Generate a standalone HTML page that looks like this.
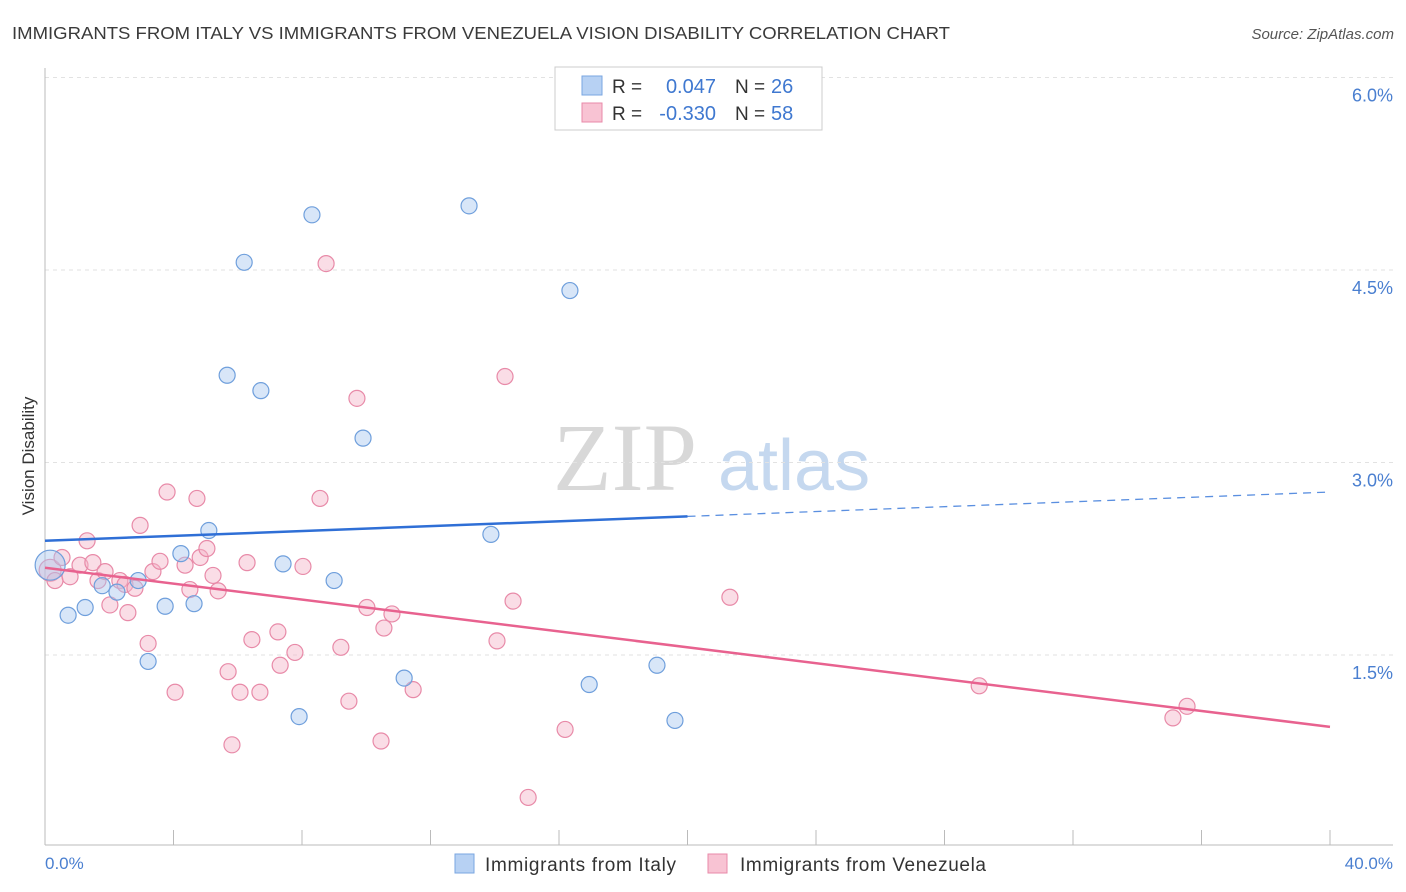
<!DOCTYPE html>
<html><head><meta charset="utf-8"><style>
body{margin:0;background:#fff;font-family:"Liberation Sans",Arial,sans-serif;}
#wrap{position:relative;width:1406px;height:892px;overflow:hidden;}
</style></head><body>
<div id="wrap">
<svg id="chart" width="1406" height="892" xmlns="http://www.w3.org/2000/svg">
<text x="12" y="39" font-size="17.5" fill="#3a3a3a" textLength="938" lengthAdjust="spacingAndGlyphs">IMMIGRANTS FROM ITALY VS IMMIGRANTS FROM VENEZUELA VISION DISABILITY CORRELATION CHART</text>
<text x="1394" y="39" font-size="15" fill="#555" font-style="italic" text-anchor="end">Source: ZipAtlas.com</text>
<g>
<text x="553" y="490" font-size="96" font-family="Liberation Serif,serif" fill="#d8d8d8">ZIP</text>
<text x="718" y="490" font-size="72" fill="#c5d8ef">atlas</text>
</g>
<g id="grid"></g>
<g id="axes"></g>
<g id="pts"></g>
<g id="trend"></g>
<text transform="translate(34,456) rotate(-90)" font-size="17" fill="#333" text-anchor="middle">Vision Disability</text>
<text x="45" y="869" font-size="17" fill="#4a7fd0">0.0%</text>
<text x="1393" y="869" font-size="17" fill="#4a7fd0" text-anchor="end">40.0%</text>
<g>
<rect x="555" y="67" width="267" height="63" fill="#fff" stroke="#ccc"/>
<rect x="582" y="76" width="20" height="19" fill="#b7d1f3" stroke="#7aa6e0"/>
<rect x="582" y="103" width="20" height="19" fill="#f8c3d3" stroke="#e88aa8"/>
<text x="612" y="93" font-size="19" fill="#333">R =</text>
<text x="716" y="93" font-size="20" fill="#3f78d0" text-anchor="end">0.047</text>
<text x="735" y="93" font-size="19" fill="#333">N =</text>
<text x="771" y="93" font-size="20" fill="#3f78d0">26</text>
<text x="612" y="120" font-size="19" fill="#333">R =</text>
<text x="716" y="120" font-size="20" fill="#3f78d0" text-anchor="end">-0.330</text>
<text x="735" y="120" font-size="19" fill="#333">N =</text>
<text x="771" y="120" font-size="20" fill="#3f78d0">58</text>
</g>
<g>
<rect x="455" y="854" width="19" height="19" fill="#b7d1f3" stroke="#7aa6e0"/>
<text x="485" y="871" font-size="19" fill="#333" textLength="191">Immigrants from Italy</text>
<rect x="708" y="854" width="19" height="19" fill="#f8c3d3" stroke="#e88aa8"/>
<text x="740" y="871" font-size="19" fill="#333" textLength="246">Immigrants from Venezuela</text>
</g>
</svg>
</div>
<script>
const yTicks=[1.5,3.0,4.5,6.0];
const yTickLabels=["1.5%","3.0%","4.5%","6.0%"];
const xTickVals=[0,4,8,12,16,20,24,28,32,36,40];
const italyX=[0.16,0.72,1.25,1.78,2.24,2.90,3.21,3.74,4.23,4.64,5.10,5.67,6.20,6.72,7.41,7.91,8.31,9.00,9.90,11.18,13.20,13.88,16.34,16.94,19.05,19.61];
const italyY=[2.20,1.81,1.87,2.04,1.99,2.08,1.45,1.88,2.29,1.90,2.47,3.68,4.56,3.56,2.21,1.02,4.93,2.08,3.19,1.32,5.00,2.44,4.34,1.27,1.42,0.99];
const venX=[0.16,0.31,0.53,0.78,1.09,1.31,1.49,1.65,1.87,2.02,2.33,2.49,2.58,2.80,2.96,3.21,3.36,3.58,3.80,4.05,4.36,4.51,4.73,4.83,5.04,5.23,5.39,5.70,5.82,6.07,6.29,6.44,6.69,7.25,7.32,7.78,8.03,8.56,8.75,9.21,9.46,9.71,10.02,10.46,10.55,10.80,11.46,14.07,14.32,14.57,15.04,16.19,21.32,29.08,35.11,35.55];
const venY=[2.16,2.08,2.26,2.11,2.20,2.39,2.22,2.08,2.15,1.89,2.08,2.05,1.83,2.02,2.51,1.59,2.15,2.23,2.77,1.21,2.20,2.01,2.72,2.26,2.33,2.12,2.00,1.37,0.80,1.21,2.22,1.62,1.21,1.68,1.42,1.52,2.19,2.72,4.55,1.56,1.14,3.50,1.87,0.83,1.71,1.82,1.23,1.61,3.67,1.92,0.39,0.92,1.95,1.26,1.01,1.10];
const italyTrend=[2.39,2.77];
const venTrend=[2.18,0.94];
const NS="http://www.w3.org/2000/svg";
const sx=v=>45+v/40*1285;
const sy=v=>847.5-v*128.33;
function mk(tag,attrs,parent){const e=document.createElementNS(NS,tag);for(const k in attrs)e.setAttribute(k,attrs[k]);document.getElementById(parent).appendChild(e);return e;}
yTicks.forEach((t,i)=>{
 const l=mk('line',{x1:45,x2:1393,y1:sy(t),y2:sy(t),stroke:'#e2e2e2','stroke-dasharray':'4,4'},'grid');
 
 
 const tx=mk('text',{x:1393,y:sy(t)+24,'font-size':18,fill:'#4a7fd0','text-anchor':'end'},'grid');
 tx.textContent=yTickLabels[i];
 
 
});
const ax=mk('line',{x1:45,x2:1393,y1:845,y2:845,stroke:'#bbb'},'axes');


const ay=mk('line',{x1:45,x2:45,y1:68,y2:845,stroke:'#bbb'},'axes');


xTickVals.forEach(v=>{
 const t=mk('line',{x1:sx(v),x2:sx(v),y1:830,y2:845,stroke:'#bbb'},'axes');
 
 
});
function pts(X,Y,fill,stroke,name,bigR){
 X.forEach((x,i)=>{
  const c=mk('circle',{cx:sx(x),cy:sy(Y[i]),r:(i===0?bigR:8),fill:fill,'fill-opacity':0.45,stroke:stroke,'stroke-width':1.2},'pts');
  
  
 });
}
pts(venX,venY,'#f5b3c8','#e88aa8','venezuela-point',11);
pts(italyX,italyY,'#a9c8f0','#6f9fdc','italy-point',15);
const t1=mk('line',{x1:sx(0),y1:sy(italyTrend[0]),x2:sx(20),y2:sy(italyTrend[0]+(italyTrend[1]-italyTrend[0])/2),stroke:'#2f6fd6','stroke-width':2.5},'trend');


const t2=mk('line',{x1:sx(20),y1:sy(italyTrend[0]+(italyTrend[1]-italyTrend[0])/2),x2:sx(40),y2:sy(italyTrend[1]),stroke:'#5a8fe0','stroke-width':1.3,'stroke-dasharray':'8,6'},'trend');


const t3=mk('line',{x1:sx(0),y1:sy(venTrend[0]),x2:sx(40),y2:sy(venTrend[1]),stroke:'#e8628f','stroke-width':2.5},'trend');


</script>
</body></html>
